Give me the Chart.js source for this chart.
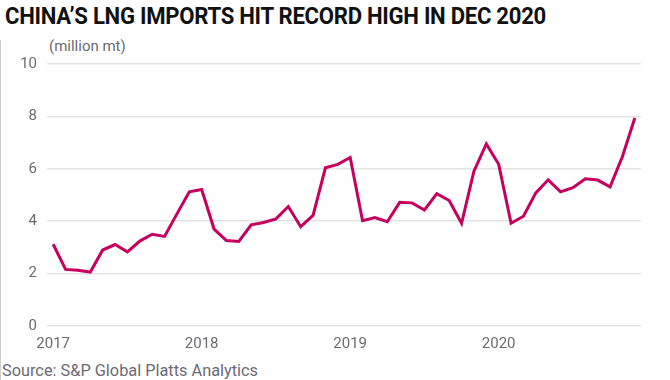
<!DOCTYPE html>
<html>
<head>
<meta charset="utf-8">
<script src="https://cdn.jsdelivr.net/npm/chart.js@4/dist/chart.umd.min.js"></script>
<style>
  html, body { margin: 0; padding: 0; background: #fff; }
  body { width: 670px; height: 380px; position: relative; overflow: hidden; }
  #edge { position: absolute; left: 0; top: 40px; width: 1px; height: 340px; background: #cfcfcf; }
  #title { position: absolute; left: 5px; top: 2px; font-family: Roboto, sans-serif; font-weight: 700;
           font-size: 24px; color: #111; white-space: nowrap; transform-origin: 0 0; letter-spacing: -0.3px; }
  #unit { position: absolute; left: 49px; top: 37px; font-family: Roboto, sans-serif; font-size: 15px; color: #6b6b73; }
  #source { position: absolute; left: 2px; top: 361px; font-family: Roboto, sans-serif; font-size: 16px; color: #6b6b73;
            white-space: nowrap; transform-origin: 0 0; }
  #wrap { position: absolute; left: 0; top: 45px; width: 670px; height: 314px; }
</style>
</head>
<body>
<div id="edge"></div>
<div id="title">CHINA’S LNG IMPORTS HIT RECORD HIGH IN DEC 2020</div>
<div id="unit">(million mt)</div>
<div id="wrap"><canvas id="c" width="670" height="314"></canvas></div>
<div id="source">Source: S&amp;P Global Platts Analytics</div>
<script>
const months = [
  "Jan 2017","Feb 2017","Mar 2017","Apr 2017","May 2017","Jun 2017","Jul 2017","Aug 2017","Sep 2017","Oct 2017","Nov 2017","Dec 2017",
  "Jan 2018","Feb 2018","Mar 2018","Apr 2018","May 2018","Jun 2018","Jul 2018","Aug 2018","Sep 2018","Oct 2018","Nov 2018","Dec 2018",
  "Jan 2019","Feb 2019","Mar 2019","Apr 2019","May 2019","Jun 2019","Jul 2019","Aug 2019","Sep 2019","Oct 2019","Nov 2019","Dec 2019",
  "Jan 2020","Feb 2020","Mar 2020","Apr 2020","May 2020","Jun 2020","Jul 2020","Aug 2020","Sep 2020","Oct 2020","Nov 2020","Dec 2020"
];
const imports = [
  3.12, 2.16, 2.13, 2.06, 2.90, 3.11, 2.83, 3.24, 3.50, 3.42, 4.28, 5.12,
  5.21, 3.70, 3.26, 3.23, 3.86, 3.95, 4.09, 4.56, 3.79, 4.22, 6.04, 6.17,
  6.43, 4.02, 4.14, 3.98, 4.72, 4.70, 4.43, 5.05, 4.79, 3.92, 5.91, 6.95,
  6.17, 3.92, 4.19, 5.08, 5.58, 5.12, 5.28, 5.62, 5.57, 5.31, 6.47, 7.94
];
const yearTicks = [0, 12, 24, 36];
const yearLabels = ["2017", "2018", "2019", "2020"];
const yTicks = [0, 2, 4, 6, 8, 10];

// fit title width
const t = document.getElementById('title');
const tw = t.getBoundingClientRect().width;
t.style.transform = 'scaleX(' + (541 / tw) + ')';
const s = document.getElementById('source');
const sw = s.getBoundingClientRect().width;
s.style.transform = 'scaleX(' + (256 / sw) + ')';

const points = imports.map((v, i) => ({ x: i, y: v }));
new Chart(document.getElementById('c'), {
  type: 'line',
  data: {
    datasets: [{
      label: 'LNG imports',
      data: points,
      borderColor: '#c6005d',
      borderWidth: 3,
      pointRadius: 0,
      tension: 0,
      fill: false
    }]
  },
  options: {
    responsive: false,
    animation: false,
    layout: { padding: { left: 0, right: 29, top: 2, bottom: 5 } },
    plugins: { legend: { display: false }, tooltip: { enabled: false } },
    scales: {
      x: {
        type: 'linear', min: -0.5, max: 47.5,
        afterBuildTicks: ax => { ax.ticks = yearTicks.map(v => ({ value: v })); },
        ticks: {
          autoSkip: false, maxRotation: 0, padding: 1,
          color: '#6b6b73', font: { family: 'Roboto', size: 15 },
          callback: v => yearLabels[yearTicks.indexOf(v)]
        },
        grid: { display: false },
        border: { display: false }
      },
      y: {
        min: 0, max: 10,
        afterBuildTicks: ax => { ax.ticks = yTicks.map(v => ({ value: v })); },
        afterFit: ax => { ax.width = 47; },
        ticks: { padding: 10, color: '#6b6b73', font: { family: 'Roboto', size: 15 } },
        grid: { color: '#e3e3e3', lineWidth: 1.5, drawTicks: false },
        border: { display: false }
      }
    }
  }
});
</script>
</body>
</html>
